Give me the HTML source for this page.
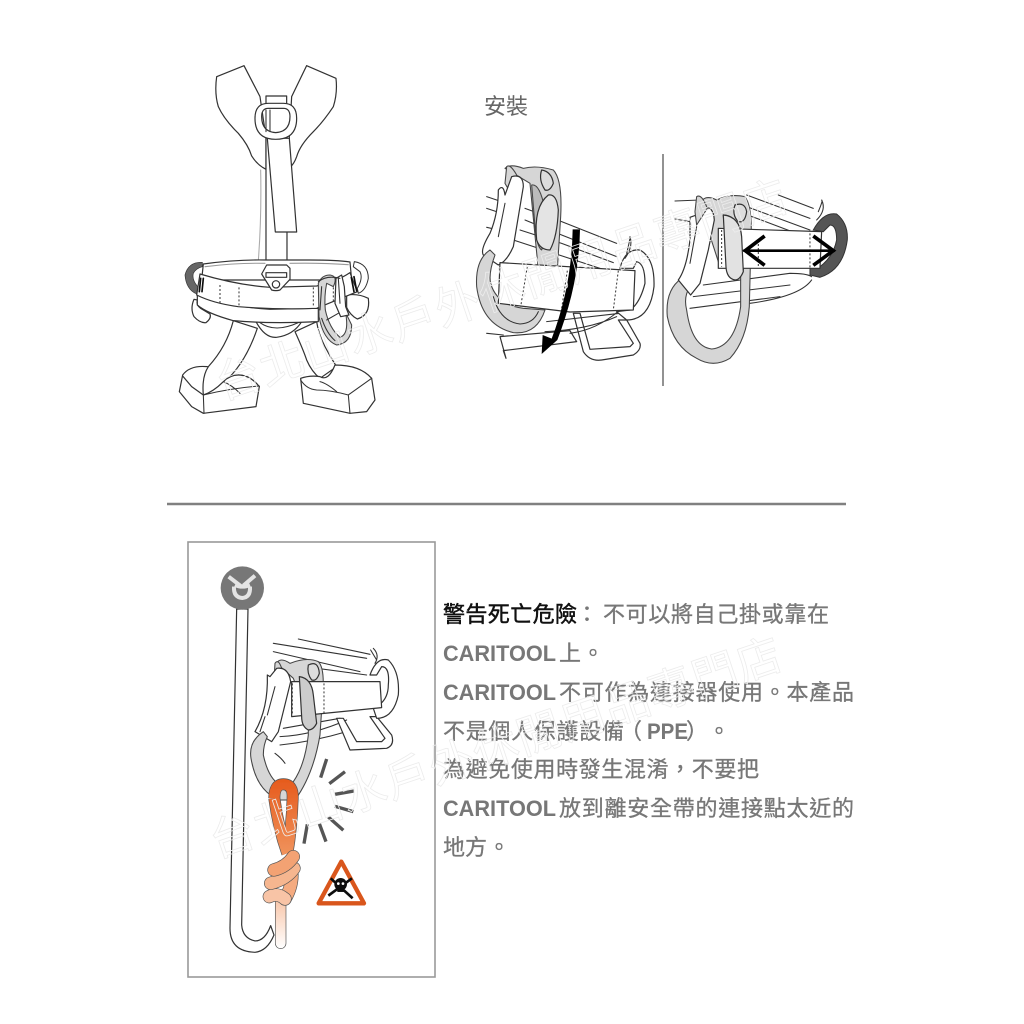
<!DOCTYPE html>
<html><head><meta charset="utf-8"><style>
html,body{margin:0;padding:0;background:#fff}
svg{display:block}
.l{fill:#fff;stroke:#333;stroke-width:3.6;stroke-linejoin:round;stroke-linecap:round}
.n{fill:none;stroke:#333;stroke-width:3.2;stroke-linejoin:round;stroke-linecap:round}
.g{fill:#d6d6d6;stroke:#444;stroke-width:3.2;stroke-linejoin:round}
.d{fill:none;stroke:#333;stroke-width:3;stroke-dasharray:6 6}
.t{font-family:"Liberation Sans","Noto Sans CJK TC",sans-serif;font-size:22px;fill:#777;stroke:#777;stroke-width:.3}
.b{font-weight:bold;stroke-width:0;fill:#777}
.w{font-family:"Liberation Sans","Noto Sans CJK TC",sans-serif;font-size:45px;fill:none;stroke:#ececec;stroke-width:.8}
</style></head><body>
<svg width="1024" height="1024" viewBox="0 0 1024 1024" xmlns="http://www.w3.org/2000/svg">
<defs>
<filter id="s" x="-5%" y="-5%" width="110%" height="110%"><feGaussianBlur stdDeviation="1"/></filter>
<linearGradient id="r3" gradientUnits="userSpaceOnUse" x1="0" y1="730" x2="0" y2="960"><stop offset="0" stop-color="#e65a1c"/><stop offset="1" stop-color="#f0935c"/></linearGradient>
<linearGradient id="r2" gradientUnits="userSpaceOnUse" x1="0" y1="1090" x2="0" y2="1240"><stop offset="0" stop-color="#f8c4a6"/><stop offset="1" stop-color="#fff"/></linearGradient>
</defs>
<rect width="1024" height="1024" fill="#fff"/>

<!-- Harness upper -->
<g transform="translate(160,50) scale(.3333)" filter="url(#s)">
<path class="n" style="stroke:#aaa" d="M252,47L300,140M440,47L395,140M302,360Q305,500 295,632"/>
<path class="l" d="M252,47L170,80Q163,130 175,170Q192,208 235,250Q265,285 275,318Q292,345 318,358L318,262L300,140Z"/>
<path class="l" d="M440,47L528,85Q533,130 520,170Q490,215 460,245Q420,285 410,320Q402,342 390,352L388,262L395,140Z"/>
<path class="l" d="M318,262H381V690H318Z"/>
<path class="l" d="M322,265L346,546H410L388,265Z"/>
<path class="l" d="M318,138H380V175H318Z"/>
<path class="l" fill-rule="evenodd" d="M285,205Q285,160 325,160H370Q410,160 410,205Q410,268 347,268Q285,268 285,205ZM305,200Q305,245 347,248Q390,245 390,200Q390,175 370,175H325Q305,175 305,200Z"/>
<path class="n" d="M318,180V245M330,180V245"/>
</g>

<!-- Harness lower (belt, legs, carabiner) -->
<g transform="translate(170,250) scale(.3333)" filter="url(#s)">
<path class="l" d="M190,212Q170,290 115,350Q95,380 100,435L160,470L268,410Q240,375 205,375Q160,390 175,385Q230,330 262,235Z"/>
<path class="l" d="M375,245Q400,300 410,330Q425,365 450,385L500,350Q480,320 465,290Q445,250 440,215Z"/>
<path class="l" d="M112,350Q60,345 38,375L28,425L65,470L100,490L258,470L268,410Q240,375 205,375Q180,375 160,395Q130,425 100,435L65,410L38,378"/>
<path class="n" d="M100,435L102,490M100,435Q180,415 268,408M160,395Q185,405 210,430"/>
<path class="l" d="M495,345Q570,345 605,385L615,450L590,485L540,490L400,460L392,385Q420,375 450,380Q475,395 495,345Z"/>
<path class="n" d="M392,390Q410,418 440,420Q480,420 535,435L540,490M535,435L605,385M450,395Q470,400 500,425"/>
<path class="l" d="M258,215Q285,265 320,262Q370,255 395,215Z"/>
<path class="n" d="M270,218Q315,250 385,218"/>
<path class="l" d="M72,148Q60,175 72,200Q90,220 108,218Q125,205 120,192L92,175Q78,165 82,150Z"/>
<path class="l" d="M530,135Q565,130 595,145Q602,195 562,207Q540,195 530,172Z"/>
<path class="l" d="M100,42Q200,28 290,30H420Q500,30 540,36L545,90H95Z"/>
<path class="n" style="stroke:#999" d="M105,50Q200,38 285,40M360,40Q450,38 535,44"/>
<path fill="#666" stroke="#333" stroke-width="2" d="M97,37Q55,35 45,75Q48,118 80,132L85,112Q65,90 70,70Q78,55 97,50Z"/>
<path class="l" style="stroke-width:3" d="M553,35Q595,42 595,85Q588,122 565,130L562,115Q580,85 570,65L550,50Z"/>
<path class="l" d="M82,135Q150,168 300,178L445,175L445,215Q300,222 190,212Q110,190 82,165Z"/>
<path class="l" d="M90,72Q200,105 300,112L440,108Q500,95 540,68L562,125Q500,150 440,175Q330,180 205,170Q130,160 80,135Z"/>
<path class="d" d="M150,105V165M207,112V170M430,112V172M490,112V160"/>
<path class="n" style="stroke:#111;stroke-width:5" d="M92,85L88,125M100,85L96,125M544,82L552,125M552,80L560,122"/>
<path class="l" d="M275,72L290,45H350L360,55V88L330,120Q318,124 305,120Z"/>
<rect class="l" x="288" y="68" width="62" height="14"/>
<circle class="l" cx="318" cy="103" r="11"/>
<path class="g" d="M445,100Q455,75 480,75Q505,78 490,110L470,100Q462,140 466,180Q478,235 510,262Q532,255 530,215L528,190L545,225Q545,280 500,285Q460,270 447,200Z"/>
<path class="n" d="M455,110L450,180M470,210L505,190M455,205Q470,250 495,272"/>
<path class="l" d="M498,85L515,75L523,110L527,170L537,195L512,200L495,160Z"/>
<path class="n" d="M505,85L510,160M445,95Q470,75 510,85"/>
</g>

<!-- Title -->
<text x="484" y="114" style="font-family:'Liberation Sans','Noto Sans CJK TC',sans-serif;font-size:22px;fill:#666">安裝</text>

<!-- Install left -->
<g transform="translate(470,140) scale(.3333)" filter="url(#s)">
<path class="n" d="M50,170L110,190M50,205L110,225M50,262L85,270M165,205L275,245L440,310M165,240L275,285L440,350M150,270L275,310L430,368M130,300L420,395M50,580L100,585"/>
<path class="l" d="M310,520L340,635Q360,665 395,660L490,645Q515,630 510,610L470,540L445,540L490,610L480,620L360,628L330,520Z"/>
<path class="l" d="M90,590L300,572L320,605L100,632L108,655Z"/>
<path class="n" d="M230,545L450,520M225,575Q350,570 440,530M300,580Q380,570 450,510"/>
<path class="g" d="M105,85Q120,70 160,85Q200,75 250,90Q278,120 272,230L262,390L205,390L180,130Z"/>
<path class="g" style="fill:#bbb" d="M185,135Q210,130 225,210Q230,290 215,330Q200,320 195,260Z"/>
<path class="l" style="fill:#e4e4e4" d="M235,165Q260,160 265,210Q262,290 240,330Q210,330 200,300Q190,200 235,165Z"/>
<path class="l" style="fill:#ddd" d="M215,90Q245,95 250,130Q240,155 225,150Q205,120 215,90Z"/>
<path class="g" d="M110,80Q120,70 140,105L125,165L105,130Z"/>
<path class="l" d="M125,110Q160,100 160,140L130,320Q110,365 85,375L40,345Q30,330 60,280Q85,220 85,150Q100,130 105,165Z"/>
<path class="n" d="M105,190L85,290"/>
<path class="g" d="M60,330Q15,360 20,440Q35,555 130,578Q200,585 225,510L160,505Q80,495 62,430Q55,400 75,345Z"/>
<path class="n" d="M70,470Q90,545 150,552Q190,550 205,515"/>
<path class="l" d="M450,385Q465,325 510,330Q555,355 552,440Q540,540 470,540L440,515L480,510Q510,490 525,430Q525,370 500,365L490,385Z"/>
<path class="l" d="M90,368L495,392L490,510L300,516L85,490Z"/>
<path class="d" d="M172,380L152,500M292,392L275,505M445,392L430,510"/>
<path class="n" d="M470,340Q480,300 480,290Q490,320 465,355"/>
<path fill="#000" d="M308,268H330Q328,430 262,600L215,642L218,585L245,596Q305,440 308,268Z"/>
</g>

<line x1="663" y1="154" x2="663" y2="386" stroke="#777" stroke-width="1.6"/>

<!-- Install right -->
<g transform="translate(470,140) scale(.3333)" filter="url(#s)">
<path class="n" d="M615,183L690,180M615,237L660,245M830,165L1020,235M925,165L1030,205M830,200L1020,270M820,220L980,280M660,505L930,470M670,470L960,435M700,435L960,400Q1010,400 1025,410M840,490Q990,470 1025,420"/>
<path class="g" d="M690,195Q700,160 740,180Q780,160 825,170Q848,200 843,300L838,500Q830,600 780,655Q730,685 680,655Q610,620 592,530Q585,450 635,415L660,440Q640,470 650,510Q665,620 725,627Q795,620 812,500L812,390L750,380Z"/>
<path class="l" style="fill:#bbb" d="M760,225Q795,225 805,270L820,390L775,390Z"/>
<path class="l" style="fill:#ddd" d="M795,195Q825,185 830,215Q825,250 805,245Q785,225 795,195Z"/>
<path class="l" d="M660,232L680,225L700,205Q730,195 733,240L715,330L690,430L662,465L625,420Q650,385 660,300Z"/>
<path class="n" d="M680,260L660,370"/>
<path class="g" d="M680,170Q695,160 712,205L680,255L675,215Z"/>
<path fill="#555" stroke="#333" stroke-width="3" fill-rule="evenodd" d="M1030,270Q1060,215 1100,222Q1135,250 1132,300Q1120,390 1050,412L1020,405V380L1050,380Q1090,350 1100,300Q1100,255 1080,255L1060,275Z"/>
<path class="n" d="M1045,215Q1060,180 1055,180Q1070,210 1040,240"/>
<path class="l" d="M745,265L1055,275L1050,385L745,385Z"/>
<path class="d" d="M755,270V380M865,300V385M1020,280V385"/>
<path class="l" style="fill:#e2e2e2" d="M760,225Q810,230 815,290L820,395Q810,420 795,420Q770,415 768,380Z"/>
<path class="n" style="stroke:#000;stroke-width:8;stroke-linecap:butt" d="M820,332H1095"/>
<path class="n" style="stroke:#000;stroke-width:11;stroke-linecap:butt;stroke-linejoin:miter" d="M884,288L826,332L884,376M1030,288L1090,332L1030,376"/>
</g>

<!-- Divider -->
<line x1="167" y1="504" x2="846" y2="504" stroke="#808080" stroke-width="2.4"/>

<!-- Warning box -->
<rect x="188" y="542" width="247" height="435" fill="#fff" stroke="#999" stroke-width="1.6"/>
<g transform="translate(180,535) scale(.3333)" filter="url(#s)">
<path class="l" d="M170,222L150,1180Q150,1250 225,1252Q262,1248 282,1200L272,1172Q255,1218 225,1218Q188,1210 185,1170L204,222Z"/>
<circle cx="187" cy="159" r="65" fill="#777"/>
<path fill="none" stroke="#e4e4e4" stroke-width="12" d="M162,155Q160,187 187,189Q212,187 210,155"/>
<path fill="none" stroke="#e4e4e4" stroke-width="12" d="M146,125L185,155M225,122L190,152M165,150Q187,160 210,150"/>
<path class="n" d="M280,325L560,370M355,312L570,358M280,350L540,410M300,385L560,420M300,630Q400,620 500,590M300,605Q400,600 500,555M310,580L480,550"/>
<path class="l" d="M470,550L510,645L620,640Q645,630 635,600L590,545L570,545L615,610L605,620L530,620L490,550Z"/>
<path class="l" d="M570,420Q590,365 625,375Q660,410 655,480Q640,550 590,550L580,520Q625,500 625,450Q630,395 605,395L590,420Z"/>
<path class="n" d="M572,345L590,375M580,340Q600,360 585,385"/>
<path class="g" d="M290,385Q300,365 330,385Q380,365 415,380Q435,400 428,480L420,600Q400,720 345,795L300,795L340,740Q375,690 385,600L385,550L340,430Z"/>
<path class="l" style="fill:#ddd" d="M385,390Q415,375 418,415Q410,440 395,435Q380,415 385,390Z"/>
<path class="g" d="M285,385Q295,370 305,400L295,445L283,420Z"/>
<path class="l" d="M270,425L290,400Q325,395 332,440L295,590L275,620L225,590Q265,520 262,420Z"/>
<path class="n" d="M285,455L262,540M255,545L240,590"/>
<path class="g" d="M250,590Q205,620 213,670Q230,770 300,795L345,795L300,750Q265,730 250,660Q250,630 262,605Z"/>
<path class="n" d="M285,655Q305,670 315,685"/>
<path class="l" d="M335,440H600L605,518L335,545Z"/>
<path class="d" d="M337,445V540M432,445V540"/>
<path class="l" style="fill:#ccc" d="M358,425Q395,430 400,480L410,565Q400,585 385,585Q365,575 365,545Z"/>
<path fill="none" stroke="#555" stroke-width="10" d="M440,672L422,728M495,710L448,746M522,768L465,778M520,830L465,814M490,886L445,846M438,920L418,866M382,868L372,926"/>
<path fill="none" stroke="#555" stroke-width="36" d="M283,790Q283,748 310,748Q340,748 338,790Q335,880 322,955M283,790Q295,880 322,955"/>
<path fill="none" stroke="url(#r3)" stroke-width="32" d="M283,790Q283,748 310,748Q340,748 338,790Q335,880 322,955M283,790Q295,880 322,955"/>
<path fill="none" stroke="#555" stroke-width="34" stroke-linecap="round" d="M302,1100V1225"/>
<path fill="none" stroke="url(#r2)" stroke-width="30" stroke-linecap="round" d="M302,1100V1225"/>
<g fill="none" stroke-linecap="round">
<path stroke="#555" stroke-width="40" d="M335,1005Q340,1050 315,1092"/>
<path stroke="#f5ab80" stroke-width="36" d="M335,1005Q340,1050 315,1092"/>
<path stroke="#555" stroke-width="40" d="M268,1085Q292,1072 315,1092"/>
<path stroke="#f8c4a6" stroke-width="36" d="M268,1085Q292,1072 315,1092"/>
<path stroke="#555" stroke-width="40" d="M272,1045Q320,1032 342,1000"/>
<path stroke="#f6b68f" stroke-width="36" d="M272,1045Q320,1032 342,1000"/>
<path stroke="#555" stroke-width="40" d="M282,1005Q320,995 340,965"/>
<path stroke="#f3a273" stroke-width="36" d="M282,1005Q320,995 340,965"/>
</g>
<path d="M484,980L552,1105H416Z" fill="#fff" stroke="#d9571a" stroke-width="13" stroke-linejoin="round"/>
<circle cx="482" cy="1048" r="19" fill="#111"/>
<rect x="472" y="1058" width="20" height="13" fill="#111"/>
<path stroke="#111" stroke-width="8" d="M452,1030L518,1090M516,1030L445,1082"/>
<circle cx="475" cy="1046" r="4" fill="#fff"/><circle cx="489" cy="1046" r="4" fill="#fff"/>
</g>

<!-- Text -->
<g class="t">
<text x="443" y="622" textLength="134" lengthAdjust="spacing" style="fill:#111;stroke:#111;stroke-width:.5">警告死亡危險</text>
<text x="576" y="622">：</text>
<text x="603" y="622" textLength="226" lengthAdjust="spacing">不可以將自己掛或靠在</text>
<text class="b" x="443" y="661" textLength="113" lengthAdjust="spacingAndGlyphs">CARITOOL</text>
<text x="559" y="661">上</text>
<text x="582" y="661">。</text>
<text class="b" x="443" y="700" textLength="113" lengthAdjust="spacingAndGlyphs">CARITOOL</text>
<text x="559" y="700" textLength="295" lengthAdjust="spacing">不可作為連接器使用。本產品</text>
<text x="443" y="739" textLength="181" lengthAdjust="spacing">不是個人保護設備</text>
<text x="620" y="739">（</text>
<text class="b" x="647" y="739" textLength="41" lengthAdjust="spacingAndGlyphs">PPE</text>
<text x="686" y="739">）</text>
<text x="708" y="739">。</text>
<text x="443" y="777" textLength="316" lengthAdjust="spacing">為避免使用時發生混淆，不要把</text>
<text class="b" x="443" y="816" textLength="113" lengthAdjust="spacingAndGlyphs">CARITOOL</text>
<text x="559" y="816" textLength="295" lengthAdjust="spacing">放到離安全帶的連接點太近的</text>
<text x="443" y="855" textLength="44" lengthAdjust="spacing">地方</text>
<text x="488" y="855">。</text>
</g>

<!-- Watermarks -->
<text class="w" transform="translate(222,400) rotate(-18.5)" textLength="600" lengthAdjust="spacing">台北山水戶外休閒用品專門店</text>
<text class="w" transform="translate(216,858) rotate(-18.5)" textLength="600" lengthAdjust="spacing">台北山水戶外休閒用品專門店</text>
</svg>
</body></html>
